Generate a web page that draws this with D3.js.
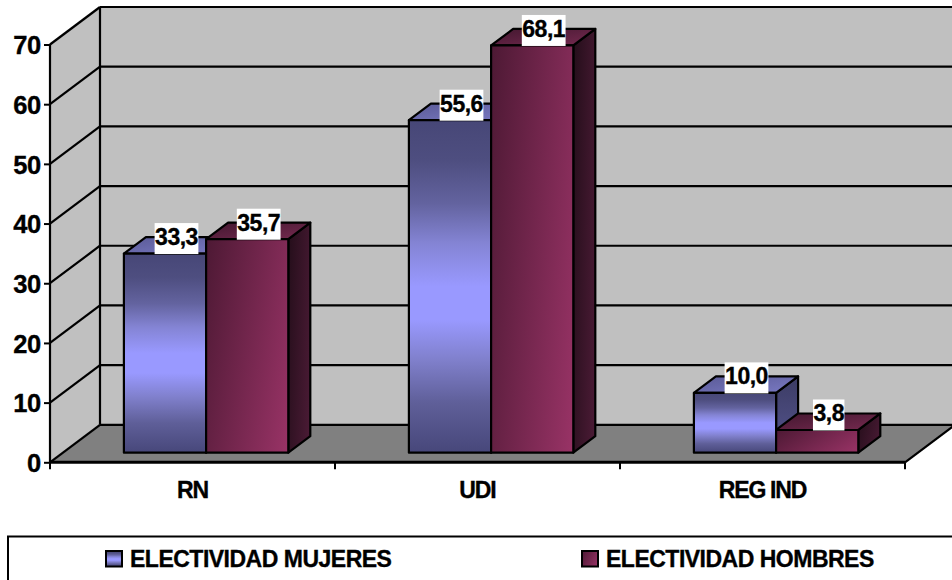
<!DOCTYPE html>
<html><head><meta charset="utf-8">
<script src="https://cdn.jsdelivr.net/npm/d3@7"></script>
<style>html,body{margin:0;padding:0;background:#fff;overflow:hidden}svg{display:block}
text{font-family:"Liberation Sans",Arial,sans-serif;font-weight:bold;fill:#000;stroke:#000;stroke-width:.35px}</style>
</head><body><svg id="c" width="952" height="580"></svg>
<script>
const categories = ["RN","UDI","REG IND"];
const seriesNames = ["ELECTIVIDAD MUJERES","ELECTIVIDAD HOMBRES"];
const mujeres = [33.3,55.6,10.0];
const hombres = [35.7,68.1,3.8];
const yTicks = [0,10,20,30,40,50,60,70];

const svg = d3.select("#c");
const defs = svg.append("defs");
function grad(id, stops, c){
  const g = defs.append("linearGradient").attr("id",id).attr("x1",c[0]).attr("y1",c[1]).attr("x2",c[2]).attr("y2",c[3]);
  stops.forEach(s=>g.append("stop").attr("offset",s[0]).attr("stop-color",s[1]));
}
const V=[0,0,0,1], D=[0,0,1.207,0.517];
grad("bF",[[0,"#474777"],[.12,"#4e4e80"],[.25,"#63639f"],[.37,"#8484d4"],[.5,"#9999ff"],[.6,"#9999ff"],[.72,"#8080cc"],[.85,"#5f5f99"],[1,"#47477a"]],V);
grad("bS",[[0,"#3c3c64"],[1,"#555590"]],V);
grad("bT",[[0,"#5a5a96"],[1,"#7a7ac4"]],[0,0,1,1]);
grad("mF",[[0,"#4d1934"],[1,"#993366"]],D);
grad("mS",[[0,"#240e1a"],[1,"#4c1b36"]],D);
grad("mT",[[0,"#43172f"],[1,"#752a50"]],[0,0,1,1]);

// 3D geometry of the chart box
const wall = {dx:50, dy:-37.5};
const y = d3.scaleLinear().domain([0,70]).range([462.3,44.5]);
const x = d3.scaleBand().domain(categories).range([50,905]);
const xEdge = d3.scaleOrdinal().domain([0,1,2,3]).range([50,335,620,905]);
const yBar = d3.scaleLinear().domain([0,70]).range([452.7,34.1]);
const barShift = 13.6, barW = 82.2, bar = {dx:22, dy:-16.5};
const line = (g,x1,y1,x2,y2,w=2.2)=>g.append("line").attr("x1",x1).attr("y1",y1).attr("x2",x2).attr("y2",y2).attr("stroke","#000").attr("stroke-width",w);
const poly = (g,pts,fill,stroke=true)=>{const p=g.append("polygon").attr("points",pts.map(d=>d.join(",")).join(" ")).attr("fill",fill);
  if(stroke){p.attr("stroke","#000").attr("stroke-width",2.2).attr("stroke-linejoin","round");}return p;};

const g = svg.append("g");
const x0=50,xB=100,xR=955,xF=905,y0=y(0),y7=y(70);
// back wall, side wall, floor
poly(g,[[xB,y7+wall.dy],[xR+5,y7+wall.dy],[xR+5,y0+wall.dy],[xB,y0+wall.dy]],"#c0c0c0",false);
poly(g,[[x0,y7],[xB,y7+wall.dy],[xB,y0+wall.dy],[x0,y0]],"#c0c0c0",false);
poly(g,[[x0,y0],[xB,y0+wall.dy],[xR,y0+wall.dy],[xF,y0]],"#808080",false);
yTicks.forEach(t=>{
  if(t>0) line(g,xB,y(t)+wall.dy,960,y(t)+wall.dy);
  line(g,x0,y(t),xB,y(t)+wall.dy);
});
line(g,xB,y0+wall.dy,xR,y0+wall.dy);
line(g,xF,y0,xR,y0+wall.dy);
line(g,x0,y7,x0,y0); line(g,xB,y7+wall.dy,xB,y0+wall.dy);
line(g,x0,y0,xF,y0,3);

// axes
const yAxis = d3.axisLeft(y).tickValues(yTicks).tickSize(6).tickPadding(3).tickFormat(d3.format("d"));
const ya = svg.append("g").attr("transform",`translate(${x0},0)`).call(yAxis);
ya.select(".domain").remove();
ya.selectAll("line").attr("stroke","#000").attr("stroke-width",2);
ya.selectAll("text").style("font-size","25.5px").style("letter-spacing","-0.3px").attr("dy","0.36em");
const xTickG = svg.append("g");
[0,1,2,3].forEach(i=>line(xTickG,xEdge(i),y0,xEdge(i),y0+7,2));
const xAxis = d3.axisBottom(x).tickSize(0).tickPadding(19);
const xa = svg.append("g").attr("transform",`translate(0,${y0})`).call(xAxis);
xa.select(".domain").remove();
xa.selectAll("text").style("font-size","23px").style("letter-spacing","-1.1px").style("word-spacing","-0.5px").attr("dy","0.72em");

// bars
const rows = [{s:0,vals:mujeres,pre:"b"},{s:1,vals:hombres,pre:"m"}];
const labels=[];
categories.forEach((c,i)=>{
  rows.forEach(r=>{
    const v=r.vals[i];
    const L=x(c)+x.bandwidth()/2+barShift+(r.s-1)*barW, R=L+barW;
    const T=yBar(v), B=yBar(0);
    poly(g,[[R,T],[R+bar.dx,T+bar.dy],[R+bar.dx,B+bar.dy],[R,B]],`url(#${r.pre}S)`);
    poly(g,[[L,T],[L+bar.dx,T+bar.dy],[R+bar.dx,T+bar.dy],[R,T]],`url(#${r.pre}T)`);
    poly(g,[[L,T],[R,T],[R,B],[L,B]],`url(#${r.pre}F)`);
    labels.push({v,cx:(L+R)/2+11.5,T});
  });
});
// data labels
const lab = svg.append("g");
labels.forEach(d=>{
  const t = lab.append("text").attr("x",d.cx).attr("y",d.T-8.5).attr("text-anchor","middle").style("font-size","23px").style("letter-spacing","-0.5px")
    .text(d3.format(".1f")(d.v).replace(".",","));
  const w = t.node().getComputedTextLength();
  lab.insert("rect","text").attr("x",d.cx-w/2-.5).attr("y",d.T-30.5).attr("width",w+1).attr("height",31).attr("fill","#fff");
});
lab.selectAll("text").raise();

// legend (its box runs past the bottom and right of the picture)
const leg = svg.append("g");
leg.append("rect").attr("x",8).attr("y",536.5).attr("width",960).attr("height",70).attr("fill","#fff").attr("stroke","#000").attr("stroke-width",2);
const legX = d3.scaleOrdinal().domain(seriesNames).range([106,582]);
seriesNames.forEach((n,i)=>{
  const k=legX(n);
  leg.append("rect").attr("x",k).attr("y",551).attr("width",16).attr("height",15.5).attr("fill",`url(#${i?"mF":"bF"})`).attr("stroke","#000").attr("stroke-width",2);
  leg.append("text").attr("x",k+24).attr("y",566.5).style("font-size","23px").style("letter-spacing","-0.5px").text(n);
});
</script></body></html>
